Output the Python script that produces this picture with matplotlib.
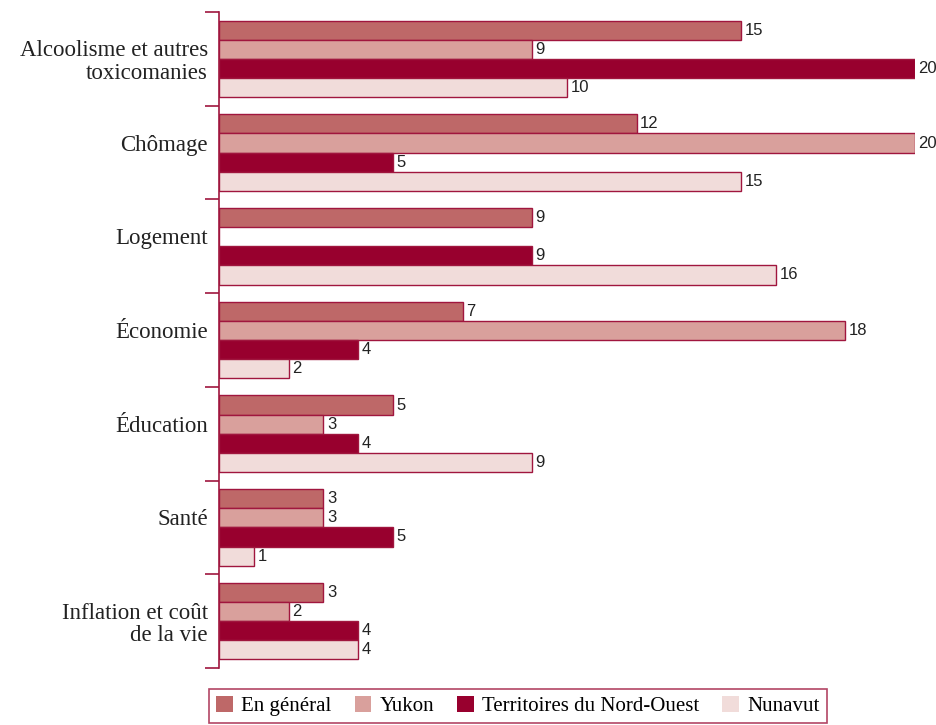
import numpy as np
import matplotlib.pyplot as plt
from matplotlib.transforms import ScaledTranslation

categories = ["Alcoolisme et autres\ntoxicomanies", "Chômage", "Logement",
              "Économie", "Éducation", "Santé", "Inflation et coût\nde la vie"]
series = ["En général", "Yukon", "Territoires du Nord-Ouest", "Nunavut"]
en_general = [15, 12, 9, 7, 5, 3, 3]
yukon = [9, 20, np.nan, 18, 3, 3, 2]
tno = [20, 5, 9, 4, 4, 5, 4]
nunavut = [10, 15, 16, 2, 9, 1, 4]

colors = ["#BE6868", "#D9A09C", "#98002E", "#F1DCDA"]
edge = "#A0163E"
serif = ["Liberation Serif", "DejaVu Serif"]
sans = ["Liberation Sans", "DejaVu Sans"]

fig = plt.figure(figsize=(9.37, 7.25), dpi=100)
ax = fig.add_axes([219 / 937, 1 - 668 / 725, (915 - 219) / 937, (668 - 12) / 725])

h = 0.204
y = np.arange(len(categories))
for k, (vals, name) in enumerate(zip([en_general, yukon, tno, nunavut], series)):
    pos = y + (k - 1.5) * h
    v = np.nan_to_num(np.array(vals, dtype=float))
    ax.barh(pos, v, height=h, color=colors[k], edgecolor=edge, linewidth=1.0, label=name)
    for p, val in zip(pos, vals):
        if np.isnan(val):
            continue
        ax.text(val + 0.1, p, f"{val:g}", va="center", ha="left", fontsize=12,
                family=sans, color="#222222", clip_on=False)

ax.set_xlim(0, 20)
ax.set_ylim(len(categories) - 0.5, -0.5)

for s in ["top", "right", "bottom"]:
    ax.spines[s].set_visible(False)
ax.spines["left"].set_color(edge)
ax.spines["left"].set_linewidth(1.2)
ax.set_xticks([])

# ticks at the group boundaries, labels at the group centres
ax.set_yticks(np.arange(len(categories) + 1) - 0.5)
ax.set_yticklabels([])
ax.tick_params(axis="y", which="major", length=10, width=1.2, color=edge)
ax.set_yticks(y, minor=True)
ax.set_yticklabels(categories, minor=True, family=serif, fontsize=16.5, color="#222222",
                   linespacing=1.1)
ax.tick_params(axis="y", which="minor", length=0, pad=8)

# one-line labels sit a little above the group centre
lift = ScaledTranslation(0, 10 / 100, fig.dpi_scale_trans)
for lab in ax.get_yticklabels(minor=True):
    if "\n" not in lab.get_text():
        lab.set_transform(lab.get_transform() + lift)

leg = fig.legend(loc="center", bbox_to_anchor=(518 / 937, 1 - 706 / 725), ncol=4,
                 frameon=True, fancybox=False, prop={"family": serif, "size": 15},
                 handlelength=0.8, handleheight=0.8, handletextpad=0.4,
                 columnspacing=1.1, borderpad=0.35)
leg.get_frame().set_edgecolor(edge)
leg.get_frame().set_linewidth(1.2)
for hd in leg.legend_handles:
    hd.set_edgecolor("none")

fig.savefig("out.png", dpi=100)
